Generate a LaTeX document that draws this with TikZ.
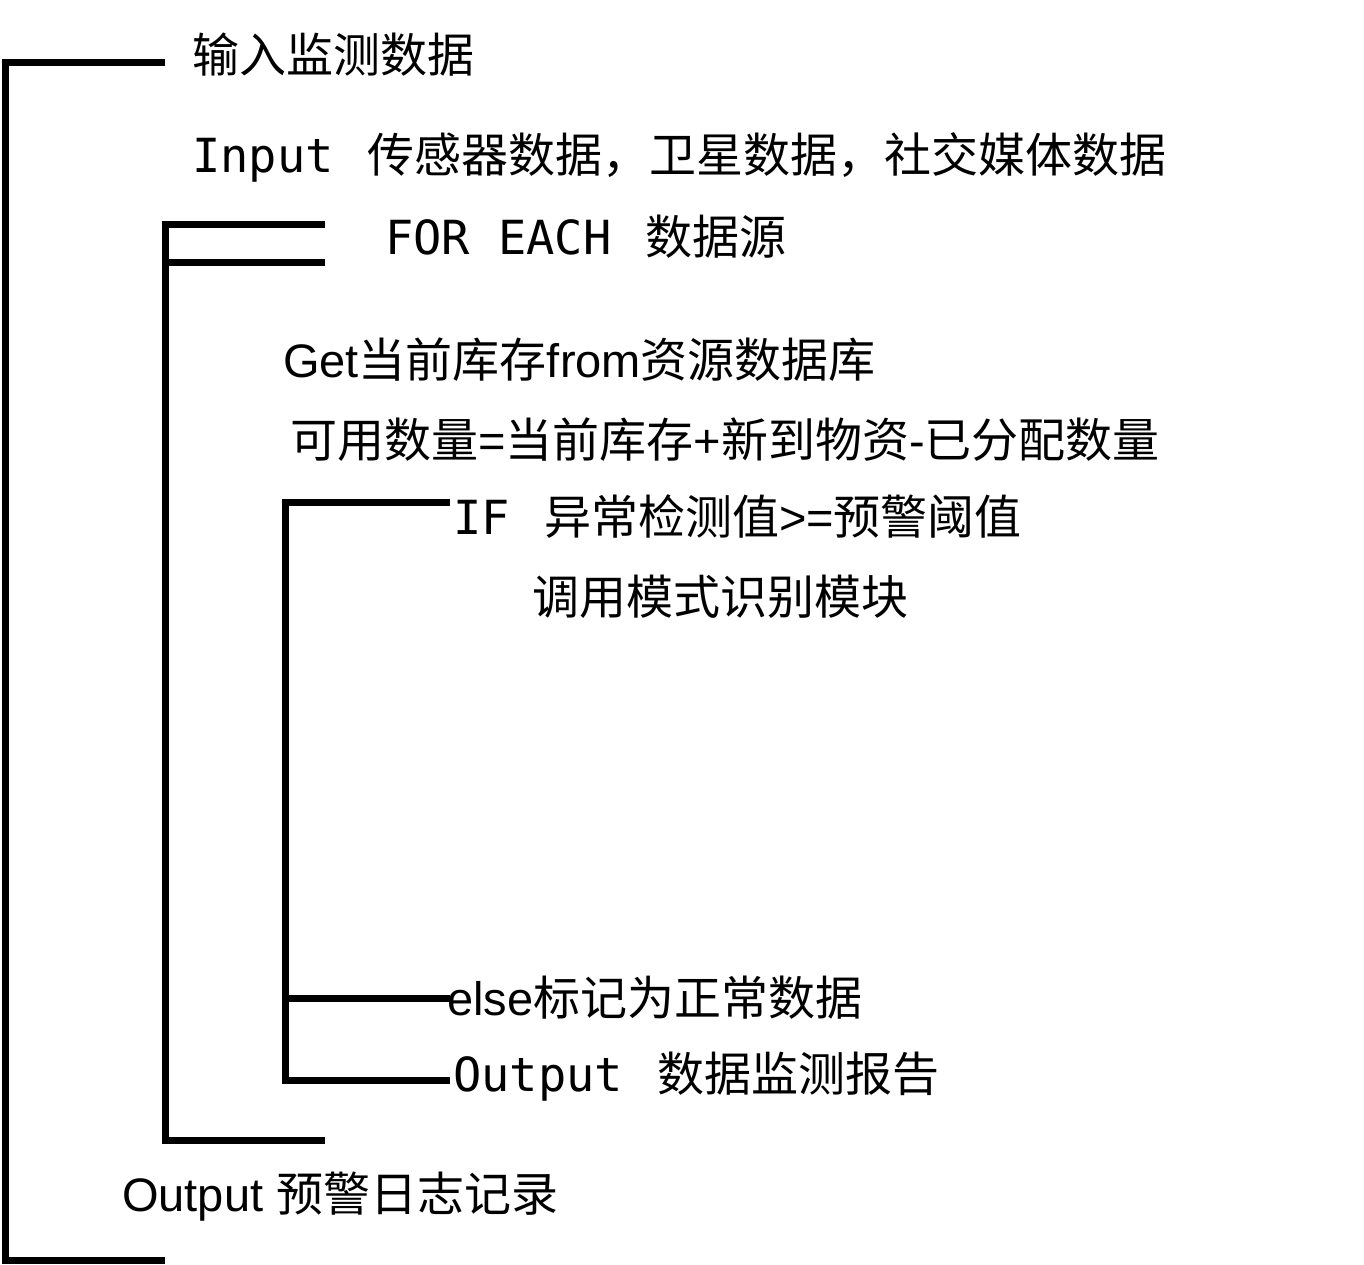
\documentclass[tikz,border=0pt]{standalone}
\usepackage{fontspec}
\setmainfont{Liberation Sans}
\setmonofont{DejaVu Sans Mono}
\newfontfamily\cjk{Noto Sans CJK SC}
\begin{document}
\begin{tikzpicture}[x=1pt,y=-1pt,
  br/.style={line width=7pt},
  txt/.style={anchor=west,inner sep=0pt,font=\fontsize{47}{50}\selectfont}]
\useasboundingbox (0,0) rectangle (1364,1264);
\draw[br] (165,62) -- (5,62) -- (5,1260) -- (165,1260);
\draw[br] (325,224) -- (165,224) -- (165,1140) -- (325,1140);
\draw[br] (165,262) -- (325,262);
\draw[br] (450,502) -- (285,502) -- (285,1080) -- (450,1080);
\draw[br] (285,998) -- (450,998);
\node[txt] (t1) at (192,55) {\cjk 输入监测数据};
\node[txt] (t2) at (192,157) {\texttt{Input\ }\hspace{6pt}{\cjk 传感器数据，卫星数据，社交媒体数据}};
\node[txt] (t3) at (385,237) {\texttt{FOR EACH\ }\hspace{6pt}{\cjk 数据源}};
\node[txt] (t4) at (283,360) {Get{\cjk 当前库存}from{\cjk 资源数据库}};
\node[txt] (t5) at (290,440) {{\cjk 可用数量}={\cjk 当前库存}+{\cjk 新到物资}-{\cjk 已分配数量}};
\node[txt] (t6) at (453,517) {\texttt{IF\ }\hspace{6pt}{\cjk 异常检测值}>={\cjk 预警阈值}};
\node[txt] (t7) at (532,597) {\cjk 调用模式识别模块};
\node[txt] (t8) at (447,998) {else{\cjk 标记为正常数据}};
\node[txt] (t9) at (453,1077) {\texttt{Output\ }\hspace{6pt}{\cjk 数据监测报告}};
\node[txt] (t10) at (122,1197) {Output {\cjk 预警日志记录}};
\end{tikzpicture}
\end{document}
